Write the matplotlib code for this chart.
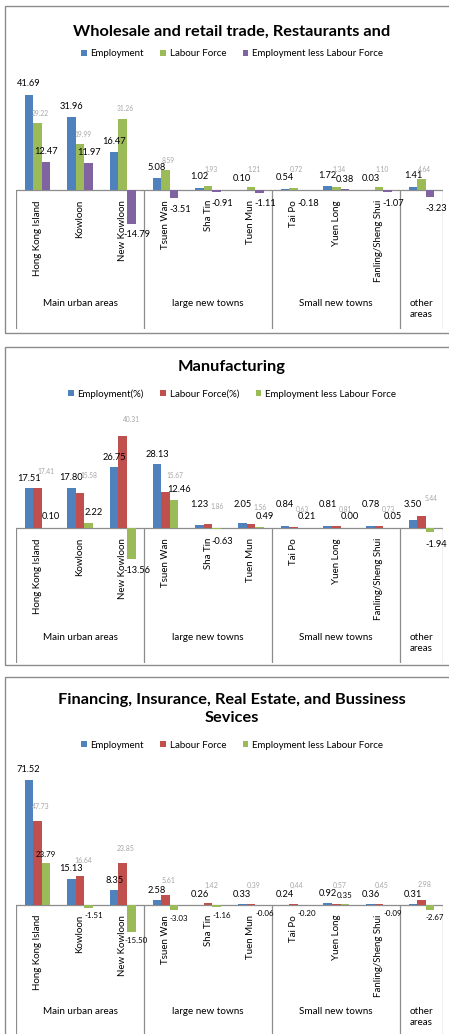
import matplotlib
matplotlib.use("Agg")
import matplotlib.pyplot as plt
from matplotlib.patches import Rectangle
import numpy as np

plt.rcParams['font.family'] = ['Lato', 'DejaVu Sans']

W, H = 449, 1034

districts = ["Hong Kong Island", "Kowloon", "New Kowloon", "Tsuen Wan", "Sha Tin",
             "Tuen Mun", "Tai Po", "Yuen Long", "Fanling/Sheng Shui", ""]
groups = ["Main urban areas", "large new towns", "Small new towns", "other\nareas"]
group_sizes = [3, 3, 3, 1]

# Wholesale and retail trade, restaurants and hotels
wholesale_emp = [41.69, 31.96, 16.47, 5.08, 1.02, 0.10, 0.54, 1.72, 0.03, 1.41]
wholesale_lf = [29.22, 19.99, 31.26, 8.59, 1.93, 1.21, 0.72, 1.34, 1.10, 4.64]
wholesale_diff = [12.47, 11.97, -14.79, -3.51, -0.91, -1.11, -0.18, 0.38, -1.07, -3.23]

# Manufacturing
manu_emp = [17.51, 17.80, 26.75, 28.13, 1.23, 2.05, 0.84, 0.81, 0.78, 3.50]
manu_lf = [17.41, 15.58, 40.31, 15.67, 1.86, 1.56, 0.63, 0.81, 0.73, 5.44]
manu_diff = [0.10, 2.22, -13.56, 12.46, -0.63, 0.49, 0.21, 0.00, 0.05, -1.94]

# Financing, insurance, real estate and business services
fin_emp = [71.52, 15.13, 8.35, 2.58, 0.26, 0.33, 0.24, 0.92, 0.36, 0.31]
fin_lf = [47.73, 16.64, 23.85, 5.61, 1.42, 0.39, 0.44, 0.57, 0.45, 2.98]
fin_diff = [23.79, -1.51, -15.50, -3.03, -1.16, -0.06, -0.20, 0.35, -0.09, -2.67]

BLUE = "#4F81BD"
RED = "#C0504D"
GREEN = "#9BBB59"
PURPLE = "#8064A2"
LINE = "#8C8C8C"
GREY_TXT = "#A6A6A6"

fig = plt.figure(figsize=(W / 100, H / 100), dpi=100)


def box(left, top, right, bottom):
    return [left / W, 1 - bottom / H, (right - left) / W, (bottom - top) / H]


def add_labels(ax, xs, vals, scale, color, size, pos, neg=(0, 0), dx=0, neg_dx=0):
    # pos/neg = (gap from bar end, minimum distance from the zero line), in px
    for xi, v in zip(xs, vals):
        h = v * scale
        if v >= 0:
            dy, off = max(h + pos[0], pos[1]), dx
        else:
            dy, off = -max(-h + neg[0], neg[1]), neg_dx
        ax.annotate(f"{v:.2f}", (xi, 0), xytext=(off, dy),
                    textcoords='offset pixels', ha='center', va='center',
                    fontsize=size, color=color)


def draw_panel(p):
    ax = fig.add_axes(box(16, p['top'], 443, p['bottom']))
    scale = p['scale']
    ax.set_xlim(-0.5, 9.5)
    ymin = -(p['bottom'] - p['zero']) / scale
    ax.set_ylim(ymin, (p['zero'] - p['top']) / scale)
    ax.axis('off')

    x = np.arange(len(districts))
    bars = []
    for k, (vals, col) in enumerate(zip(p['series'], p['colors'])):
        bars.append(ax.bar(x + (k - 1) * 0.2, vals, 0.2, color=col, zorder=2))

    # category axis with group separators
    ax.axhline(0, color=LINE, lw=0.9, zorder=1)
    edges = np.concatenate([[0], np.cumsum(group_sizes)]) - 0.5
    ax.vlines(edges, ymin, 0, color=LINE, lw=0.9)
    for i, name in enumerate(districts):
        ax.annotate(name, (i, 0), xytext=(0, -10), textcoords='offset pixels',
                    rotation=90, ha='center', va='top', fontsize=7.0)
    for g, a, b in zip(groups, edges[:-1], edges[1:]):
        ax.annotate(g, ((a + b) / 2, 0), xytext=(0, -p['group_y']),
                    textcoords='offset pixels', ha='center', va='top',
                    fontsize=7.1, linespacing=1.3)

    emp, lf, diff = p['series']
    lab = p['labels']
    add_labels(ax, x - 0.2, emp, scale, 'black', lab['emp_size'], lab['emp'])
    add_labels(ax, x, lf, scale, GREY_TXT, lab['lf_size'], lab['lf'], dx=lab['lf_dx'])
    add_labels(ax, x + 0.2, diff, scale, 'black', lab['diff_size'], lab['diff'],
               lab['neg'], dx=lab['diff_dx'], neg_dx=lab['neg_dx'])

    fig.text(232 / W, 1 - p['title_y'] / H, p['title'], ha='center', va='center',
             fontsize=11.8, fontweight='bold', linespacing=1.3)
    fig.legend(bars, p['names'], loc='center',
               bbox_to_anchor=(232 / W, 1 - p['legend_y'] / H), ncol=3,
               frameon=False, fontsize=7.0, handlelength=0.6, handleheight=0.6,
               handletextpad=0.35, columnspacing=1.7, borderaxespad=0)
    fig.add_artist(Rectangle((5 / W, 1 - p['frame'][1] / H),
                             (470 - 5) / W, (p['frame'][1] - p['frame'][0]) / H,
                             transform=fig.transFigure, fill=False,
                             edgecolor=LINE, lw=1.0))


panels = [
    dict(title="Wholesale and retail trade, Restaurants and",
         names=["Employment", "Labour Force", "Employment less Labour Force"],
         series=[wholesale_emp, wholesale_lf, wholesale_diff],
         colors=[BLUE, GREEN, PURPLE],
         top=70, zero=190, bottom=329, scale=2.28, group_y=109,
         title_y=32, legend_y=54, frame=(6, 333),
         labels=dict(emp_size=6.7, lf_size=4.8, diff_size=6.7, lf_dx=3, diff_dx=0,
                     emp=(11, 11), lf=(10, 21), diff=(10, 11),
                     neg=(11, 13), neg_dx=6)),
    dict(title="Manufacturing",
         names=["Employment(%)", "Labour Force(%)", "Employment less Labour Force"],
         series=[manu_emp, manu_lf, manu_diff],
         colors=[BLUE, RED, GREEN],
         top=410, zero=528, bottom=663, scale=2.27, group_y=105,
         title_y=367, legend_y=394, frame=(347, 665),
         labels=dict(emp_size=6.7, lf_size=4.8, diff_size=6.7, lf_dx=9, diff_dx=5,
                     emp=(10, 24), lf=(17, 19), diff=(10, 12),
                     neg=(12, 13), neg_dx=6)),
    dict(title="Financing, Insurance, Real Estate, and Bussiness\nSevices",
         names=["Employment", "Labour Force", "Employment less Labour Force"],
         series=[fin_emp, fin_lf, fin_diff],
         colors=[BLUE, RED, GREEN],
         top=760, zero=905, bottom=1034, scale=1.75, group_y=102,
         title_y=709, legend_y=745, frame=(677, 1045),
         labels=dict(emp_size=6.7, lf_size=5.0, diff_size=5.7, lf_dx=3, diff_dx=0,
                     emp=(10, 10), lf=(15, 19), diff=(9, 9),
                     neg=(8, 5), neg_dx=5)),
]

for p in panels:
    draw_panel(p)

fig.savefig("out.png", dpi=100)
